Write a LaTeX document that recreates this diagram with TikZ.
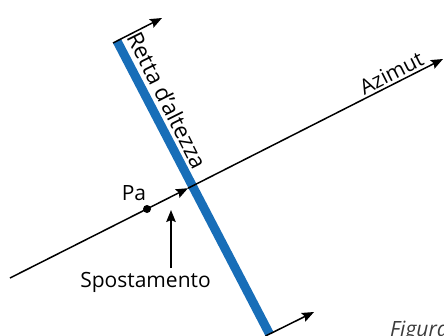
\documentclass[tikz,border=0pt]{standalone}
\usepackage{fontspec}
\setmainfont{Open Sans}
\usetikzlibrary{arrows.meta}
\definecolor{strip}{RGB}{24,110,184}
\definecolor{capgray}{RGB}{60,60,60}
\begin{document}
\begin{tikzpicture}[x=1pt,y=-1pt,
  line/.style={line width=1.5pt,black},
  arr/.style={line,-{Stealth[length=12pt,width=9.5pt,inset=2pt]}},
  lbl/.style={font=\fontsize{21}{25}\selectfont,inner sep=0pt}]
\useasboundingbox (0,0) rectangle (444,335);
% blue line
\coordinate (bt) at (117,41);
\coordinate (bb) at (269.5,334);
\draw[strip,line width=9pt] (bt) -- (bb);
% perpendicular arrows at ends
\coordinate (tl) at (113,43);
\coordinate (tt) at (162,18);
\draw[arr] (tl) -- (tt);
\coordinate (bl) at (265.5,336);
\coordinate (btip) at (314,312);
\draw[arr] (bl) -- (btip);
% azimut
\coordinate (a0) at (10,278);
\coordinate (am) at (188,188.2);
\coordinate (a1) at (443,59);
\draw[arr] (a0) -- (am);
\draw[arr] (am) -- (a1);
% Pa
\node[circle,fill=black,inner sep=0pt,minimum size=8pt] (pa) at (147,209) {};
\node[lbl,anchor=base] (patext) at (134,200) {Pa};
% spostamento
\node[lbl,anchor=base] (sp) at (145.5,287) {Spostamento};
\coordinate (sptip) at (171,210);
\coordinate (spfoot) at (171,268);
\draw[arr] (spfoot) -- (sptip);
% rotated labels
\node[lbl,font=\fontsize{22.5}{26}\selectfont,rotate=-63.4,anchor=base west] (retta) at (126,37) {Retta d'altezza};
\node[lbl,rotate=26.8,anchor=south] (az) at (395,80) {Azimut};
% caption
\node[font=\fontsize{21}{25}\selectfont\itshape,text=capgray,anchor=base west,inner sep=0pt] (fig) at (390,336) {Figura};
\end{tikzpicture}
\end{document}
